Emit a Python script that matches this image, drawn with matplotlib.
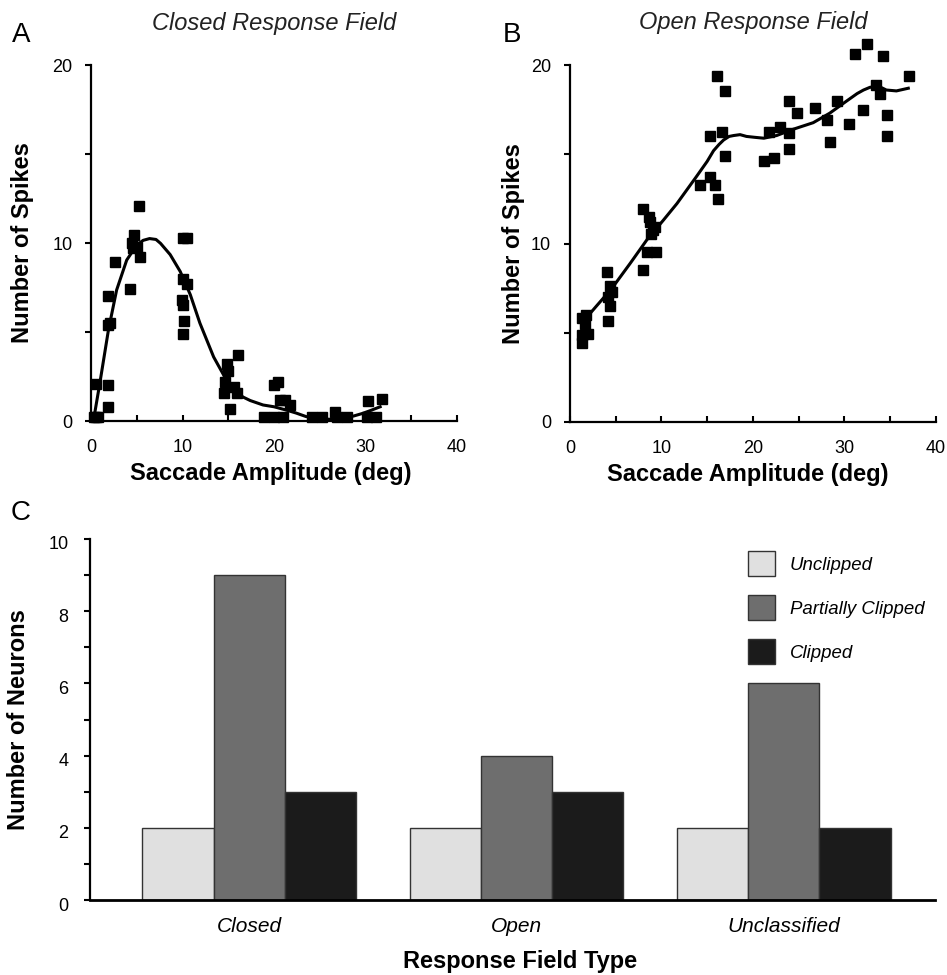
import matplotlib
matplotlib.use("Agg")
import matplotlib.pyplot as plt
from matplotlib.ticker import MultipleLocator
from matplotlib.patches import Patch
import matplotlib.transforms as mtransforms

plt.rcParams['font.family'] = ['Liberation Sans', 'DejaVu Sans']

# ---- Panel A: closed response field (amplitude deg, spikes) ----
closed_x = [0.3, 0.5, 0.8, 0.55, 1.9, 1.9, 1.9, 2.1, 1.9, 2.6, 4.3, 4.7, 4.5, 4.6,
            5.0, 5.4, 5.2, 10.05, 10.5, 10.05, 10.5, 9.95, 10.05, 10.2, 10.1,
            14.9, 15.0, 14.6, 14.5, 15.2, 16.0, 16.1, 15.6, 20.0, 20.4, 18.9, 20.0,
            21.0, 20.7, 21.2, 21.8, 24.2, 25.2, 26.7, 26.9, 28.0, 30.3, 31.8, 30.2, 31.1]
closed_y = [0.2, 0.25, 0.2, 2.1, 0.8, 2.0, 5.4, 5.5, 7.0, 8.95, 7.4, 10.45, 10.0, 9.7,
            9.8, 9.2, 12.1, 10.3, 10.3, 7.96, 7.7, 6.8, 6.5, 5.6, 4.9,
            3.2, 2.8, 2.2, 1.55, 0.65, 1.6, 3.7, 1.9, 2.0, 2.2, 0.2, 0.2,
            0.2, 1.2, 1.2, 0.9, 0.2, 0.2, 0.5, 0.25, 0.2, 1.1, 1.25, 0.25, 0.25]
closed_fit_x = [0.28, 1.02, 1.9, 2.8, 3.9, 5.0, 5.7, 6.4, 7.1, 7.6, 8.65, 9.75, 10.85,
                11.9, 13.4, 14.8, 15.6, 16.6, 17.4, 18.8, 20.0, 21.3, 22.4, 23.5,
                24.7, 25.7, 26.5, 27.9, 28.7, 29.7, 30.5, 31.6]
closed_fit_y = [0.06, 2.3, 5.1, 7.36, 9.04, 9.89, 10.15, 10.25, 10.2, 9.98, 9.35, 8.4,
                7.1, 5.5, 3.6, 2.3, 1.8, 1.35, 1.15, 0.9, 0.8, 0.62, 0.45, 0.25,
                0.16, 0.1, 0.1, 0.2, 0.28, 0.43, 0.58, 0.8]

# ---- Panel B: open response field ----
open_x = [1.3, 1.3, 1.3, 1.8, 1.6, 2.0, 4.0, 4.2, 4.4, 4.6, 4.4, 4.2,
          8.0, 8.6, 8.8, 8.9, 9.1, 8.0, 8.4, 9.4, 9.3,
          14.2, 15.3, 15.9, 16.2, 15.3, 16.1, 16.9, 16.6, 16.9,
          21.2, 22.3, 21.8, 23.0, 24.0, 23.9, 24.0, 24.8, 26.8, 28.1, 28.4,
          29.2, 30.5, 31.2, 32.5, 32.0, 33.5, 33.9, 34.2, 34.7, 34.7, 37.1]
open_y = [4.4, 4.86, 5.8, 6.0, 5.5, 4.95, 8.4, 7.0, 7.6, 7.3, 6.5, 5.65,
          11.96, 11.5, 11.2, 10.56, 10.75, 8.5, 9.5, 9.5, 10.9,
          13.3, 13.7, 13.3, 12.5, 16.0, 19.4, 18.55, 16.25, 14.9,
          14.6, 14.8, 16.25, 16.5, 18.0, 16.2, 15.3, 17.3, 17.6, 16.9, 15.7,
          18.0, 16.7, 20.6, 21.2, 17.5, 18.9, 18.4, 20.5, 17.2, 16.0, 19.4]
open_fit_x = [1.27, 2.9, 4.6, 6.6, 8.4, 10.2, 11.7, 13.8, 15.0, 15.7, 16.3, 16.8,
              17.4, 17.9, 18.6, 19.3, 20.2, 21.2, 22.6, 24.4, 26.6, 28.4, 30.3,
              31.4, 32.1, 32.8, 33.4, 34.0, 34.6, 35.7, 37.0]
open_fit_y = [5.53, 6.5, 7.5, 8.9, 10.2, 11.3, 12.24, 13.73, 14.6, 15.2, 15.55, 15.8,
              16.0, 16.05, 16.1, 16.0, 15.95, 15.9, 16.05, 16.4, 16.77, 17.3, 18.0,
              18.4, 18.6, 18.75, 18.8, 18.75, 18.6, 18.55, 18.7]

# ---- Panel C: neuron counts ----
field_types = ['Closed', 'Open', 'Unclassified']
unclipped = [2, 2, 2]
partially_clipped = [9, 4, 6]
clipped = [3, 3, 2]
series_names = ['Unclipped', 'Partially Clipped', 'Clipped']
series_colors = ['#e0e0e0', '#6e6e6e', '#1b1b1b']

fig = plt.figure(figsize=(9.47, 9.75), dpi=100)

axA = fig.add_axes([0.0961, 0.5682, 0.3865, 0.3651])
axB = fig.add_axes([0.6019, 0.5672, 0.3862, 0.3661])
axC = fig.add_axes([0.0950, 0.0769, 0.8923, 0.3703])


def scatter_panel(ax, xs, ys, fx, fy, title, ylab_x, xlab_x):
    ax.plot(xs, ys, 's', color='black', markersize=7.3, clip_on=False, zorder=3)
    ax.plot(fx, fy, '-', color='black', lw=2.2, clip_on=False, zorder=4)
    ax.set_xlim(0, 40)
    ax.set_ylim(0, 20)
    ax.set_xticks([0, 5, 10, 15, 20, 25, 30, 35, 40])
    ax.set_xticklabels(['0', '', '10', '', '20', '', '30', '', '40'])
    ax.set_yticks([0, 5, 10, 15, 20])
    ax.set_yticklabels(['0', '', '10', '', '20'])
    ax.tick_params(axis='x', direction='in', length=4.5, width=1.5, pad=13, labelsize=13)
    ax.tick_params(axis='y', direction='out', length=4.5, width=1.5, pad=9, labelsize=13)
    for s in ['top', 'right']:
        ax.spines[s].set_visible(False)
    for s in ['left', 'bottom']:
        ax.spines[s].set_linewidth(1.6)
    ax.set_ylabel('Number of Spikes', fontsize=17, fontweight='bold')
    ax.yaxis.set_label_coords(ylab_x, 0.5)
    ax.set_xlabel('Saccade Amplitude (deg)', fontsize=17, fontweight='bold')
    ax.xaxis.set_label_coords(xlab_x, -0.114)
    ax.text(0.5, 1.118, title, transform=ax.transAxes, ha='center', va='center',
            fontsize=17, style='italic', color='#222222')


scatter_panel(axA, closed_x, closed_y, closed_fit_x, closed_fit_y,
              'Closed Response Field', -0.156, 0.49)
scatter_panel(axB, open_x, open_y, open_fit_x, open_fit_y,
              'Open Response Field', -0.123, 0.485)

# ---- bar chart ----
width = 0.267
pos = list(range(len(field_types)))
for k, (vals, name, col) in enumerate(zip([unclipped, partially_clipped, clipped],
                                           series_names, series_colors)):
    axC.bar([p + (k - 1) * width for p in pos], vals, width=width, color=col,
            edgecolor='#333333', linewidth=1.0, label=name, zorder=2)

axC.set_xlim(-0.597, 2.567)
axC.set_ylim(0, 10)
axC.set_xticks(pos)
axC.set_xticklabels(field_types, fontsize=15, style='italic')
axC.tick_params(axis='x', length=0, pad=12)
axC.yaxis.set_major_locator(MultipleLocator(2))
axC.yaxis.set_minor_locator(MultipleLocator(1))
axC.tick_params(axis='y', which='major', direction='out', length=4.5, width=1.5,
                pad=11, labelsize=13)
axC.tick_params(axis='y', which='minor', direction='out', length=4.5, width=1.5)
for lab in axC.get_yticklabels():
    lab.set_transform(lab.get_transform() +
                      mtransforms.ScaledTranslation(0, -4 / 100, fig.dpi_scale_trans))
for s in ['top', 'right']:
    axC.spines[s].set_visible(False)
axC.spines['left'].set_linewidth(1.6)
axC.spines['bottom'].set_linewidth(2.0)
axC.set_ylabel('Number of Neurons', fontsize=17, fontweight='bold')
axC.yaxis.set_label_coords(-0.071, 0.5)
axC.set_xlabel('Response Field Type', fontsize=17, fontweight='bold')
axC.xaxis.set_label_coords(0.509, -0.139)

handles = [Patch(facecolor=c, edgecolor='#333333', linewidth=1.0) for c in series_colors]
leg = axC.legend(handles, series_names, loc='upper left', bbox_to_anchor=(0.7787, 0.966),
                 frameon=False, fontsize=13.4, handlelength=1.44, handleheight=1.65,
                 labelspacing=1.05, handletextpad=0.8, borderpad=0, borderaxespad=0)
for t in leg.get_texts():
    t.set_fontstyle('italic')

# panel letters
fig.text(21 / 947, 1 - 35 / 975, 'A', fontsize=20, ha='center', va='center')
fig.text(512 / 947, 1 - 35 / 975, 'B', fontsize=20, ha='center', va='center')
fig.text(21 / 947, 1 - 513 / 975, 'C', fontsize=20, ha='center', va='center')

fig.savefig('out.png', dpi=100)
